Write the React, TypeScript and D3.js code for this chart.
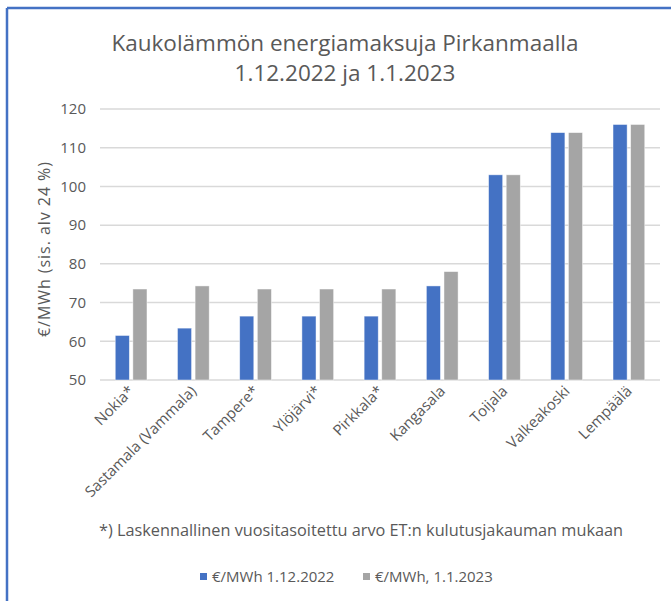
import React from "react";
import * as d3 from "d3";

const categories = [
  "Nokia*",
  "Sastamala (Vammala)",
  "Tampere*",
  "Ylöjärvi*",
  "Pirkkala*",
  "Kangasala",
  "Toijala",
  "Valkeakoski",
  "Lempäälä",
];
const dec2022 = [61.5, 63.4, 66.5, 66.5, 66.5, 74.3, 103, 113.9, 116];
const jan2023 = [73.5, 74.3, 73.5, 73.5, 73.5, 78, 103, 113.9, 116];
const seriesNames = ["€/MWh 1.12.2022", "€/MWh, 1.1.2023"];
const seriesColors = ["#4472C4", "#A5A5A5"];
const yTicks = [50, 60, 70, 80, 90, 100, 110, 120];
const titleLines = ["Kaukolämmön energiamaksuja Pirkanmaalla", "1.12.2022 ja 1.1.2023"];
const yAxisTitle = "€/MWh (sis. alv 24 %)";
const footnote = "*) Laskennallinen vuositasoitettu arvo ET:n kulutusjakauman mukaan";

const FONT = "'Open Sans', 'Noto Sans', sans-serif";
const TEXT = "#595959";

export default function App() {
  const W = 671, H = 601;
  const left = 100, right = 660, top = 109, bottom = 380;
  const x = d3.scaleBand<string>().domain(categories).range([left, right]).paddingInner(0.49).paddingOuter(0.245);
  const x1 = d3.scaleBand<number>().domain([0, 1]).range([0, x.bandwidth()]).paddingInner(0.2);
  const y = d3.scaleLinear().domain([50, 120]).range([bottom, top]);
  const series = [dec2022, jan2023];

  return (
    <svg width={W} height={H} style={{ position: "absolute", left: 0, top: 0, background: "#fff" }} fontFamily={FONT}>
      <rect x={0} y={0} width={W} height={H} fill="#fff" />
      <line x1={7} y1={8} x2={W} y2={8} stroke="#4472C4" strokeWidth={2.5} />
      <line x1={7} y1={8} x2={7} y2={H} stroke="#4472C4" strokeWidth={2.5} />
      {titleLines.map((t, i) => (
        <text key={i} x={345} y={51 + i * 30} textAnchor="middle" fontSize={22.5} fill={TEXT}>{t}</text>
      ))}
      {yTicks.map((t) => (
        <g key={t}>
          <line x1={left} x2={right} y1={y(t)} y2={y(t)} stroke="#D9D9D9" strokeWidth={1.5} />
          <text x={86} y={y(t)} dy="0.35em" textAnchor="end" fontSize={15} fill={TEXT}>{t}</text>
        </g>
      ))}
      {categories.map((c, i) => (
        <g key={c}>
          {series.map((s, k) => (
            <rect
              key={k}
              x={(x(c) as number) + (x1(k) as number)}
              y={y(s[i])}
              width={x1.bandwidth()}
              height={bottom - y(s[i])}
              fill={seriesColors[k]}
              stroke="#ffffff"
              strokeOpacity={0.6}
              strokeWidth={0.75}
            />
          ))}
          <text
            transform={`translate(${(x(c) as number) + x.bandwidth() / 2 + 4},${392}) rotate(-45)`}
            textAnchor="end"
            fontSize={15}
            fill={TEXT}
          >
            {c}
          </text>
        </g>
      ))}
      <text transform={`translate(44,${(top + bottom) / 2 + 5}) rotate(-90)`} textAnchor="middle" dy="0.35em" fontSize={16} textLength={175} lengthAdjust="spacing" fill={TEXT}>
        {yAxisTitle}
      </text>
      <text x={361} y={530} dy="0.35em" textAnchor="middle" fontSize={16.3} fill={TEXT}>{footnote}</text>
      {seriesNames.map((n, k) => {
        const lx = k === 0 ? 200 : 363;
        return (
          <g key={n}>
            <rect x={lx} y={573} width={7} height={7} fill={seriesColors[k]} />
            <text x={lx + 12} y={577} dy="0.35em" fontSize={15} fill={TEXT}>{n}</text>
          </g>
        );
      })}
    </svg>
  );
}
